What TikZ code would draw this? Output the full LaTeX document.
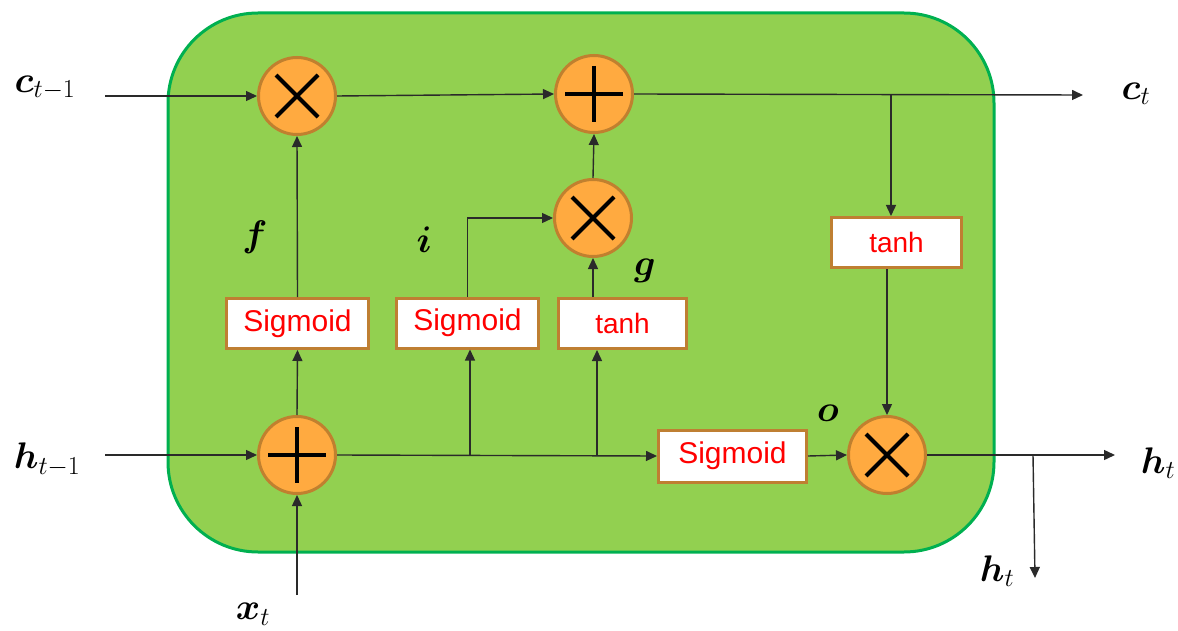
\RequirePackage{fix-cm}
\documentclass[tikz,border=0pt]{standalone}
\usepackage{fontspec}
\setmainfont{Liberation Sans}
\usepackage{bm}
\usetikzlibrary{arrows.meta,calc}
\definecolor{cellfill}{HTML}{92D050}
\definecolor{celldraw}{HTML}{00B050}
\definecolor{opfill}{HTML}{FFAA40}
\definecolor{opdraw}{HTML}{C0802F}
\definecolor{gatedraw}{HTML}{BF7F32}
\definecolor{linecol}{HTML}{2A2A2A}
\begin{document}
\begin{tikzpicture}[x=1pt,y=-1pt,
 op/.style={circle,draw=opdraw,fill=opfill,line width=3pt,minimum size=77pt,inner sep=0pt},
 gate/.style={draw=gatedraw,fill=white,line width=3pt,minimum width=142pt,minimum height=50pt,inner sep=0pt,text=red,font=\fontsize{28}{30}\selectfont},
 siggate/.style={gate,font=\fontsize{30}{32}\selectfont},
 arr/.style={draw=linecol,line width=1.4pt,-{Triangle[length=11pt,width=10pt]}},
 lab/.style={font=\fontsize{37}{42}\selectfont,inner sep=0pt},
 sym/.style={line width=4pt,draw=black}]
\useasboundingbox (0,0) rectangle (1178,631);
\draw[celldraw,fill=cellfill,line width=3pt,rounded corners=90pt] (168,13) rectangle (994,552);
% operators
\node[op] (m1) at (297,96) {};
\node[op] (a1) at (594,94) {};
\node[op] (m2) at (593,218) {};
\node[op] (a2) at (297,455) {};
\node[op] (m3) at (887,455) {};
\foreach \n in {m1,m2,m3}{
  \draw[sym] ([shift={(-21,-21)}]\n.center) -- ([shift={(21,21)}]\n.center);
  \draw[sym] ([shift={(-21,21)}]\n.center) -- ([shift={(21,-21)}]\n.center);
}
\foreach \n in {a1,a2}{
  \draw[sym] ([shift={(-29,0)}]\n.center) -- ([shift={(29,0)}]\n.center);
  \draw[sym] ([shift={(0,-28)}]\n.center) -- ([shift={(0,28)}]\n.center);
}
% gates
\node[siggate] (sf) at (297.5,323.5) {Sigmoid};
\node[siggate] (si) at (467.5,323) {Sigmoid};
\node[gate,minimum width=128pt] (tg) at (622.5,323.5) {tanh};
\node[gate,minimum width=130pt] (tc) at (896.5,242.5) {tanh};
\node[siggate,minimum width=148pt,minimum height=52pt] (so) at (732.5,456) {Sigmoid};
% coordinates
\coordinate (cin) at (105,96);
\coordinate (cout) at (1083,95);
\coordinate (cbr) at (891,95);
\coordinate (hin) at (105,455);
\coordinate (xin) at (297,595);
\coordinate (b1) at (470,455);
\coordinate (b2) at (597,455);
\coordinate (hout) at (1115,455);
\coordinate (hbr) at (1033,455);
\coordinate (hdn) at (1035,578);
% connectors
\draw[arr] (cin) -- (m1.west);
\draw[arr] (m1.east) -- (a1.west);
\draw[arr] (a1.east) -- (cout);
\draw[arr] (cbr) -- (cbr |- tc.north);
\draw[arr] (tc.south -| m3) -- (m3.north);
\draw[arr] (m2.north) -- (a1.south);
\draw[arr] (sf.north) -- (m1.south);
\draw[arr] (a2.north) -- (sf.south);
\draw[arr] (hin) -- (a2.west);
\draw[arr] (xin) -- (a2.south);
\draw[arr] (a2.east) -- (so.west);
\draw[arr] (b1) -- (b1 |- si.south);
\draw[arr] (b2) -- (b2 |- tg.south);
\draw[arr] (si.north) |- (m2.west);
\draw[arr] (tg.north -| m2) -- (m2.south);
\draw[arr] (so.east) -- (m3.west);
\draw[arr] (m3.east) -- (hout);
\draw[arr] (hbr) -- (hdn);
% labels
\node[lab] (lc0) at (45,88) {$\bm{c}_{t-1}$};
\node[lab] (lh0) at (47,460) {$\bm{h}_{t-1}$};
\node[lab] (lx) at (253,614) {$\bm{x}_t$};
\node[lab] (lct) at (1136,94) {$\bm{c}_t$};
\node[lab] (lht) at (1158,463) {$\bm{h}_t$};
\node[lab] (lht2) at (997,571) {$\bm{h}_t$};
\node[lab] (lf) at (255,237) {$\bm{f}$};
\node[lab] (li) at (424,240) {$\bm{i}$};
\node[lab] (lg) at (645,271) {$\bm{g}$};
\node[lab] (lo) at (828,413) {$\bm{o}$};
\end{tikzpicture}
\end{document}
